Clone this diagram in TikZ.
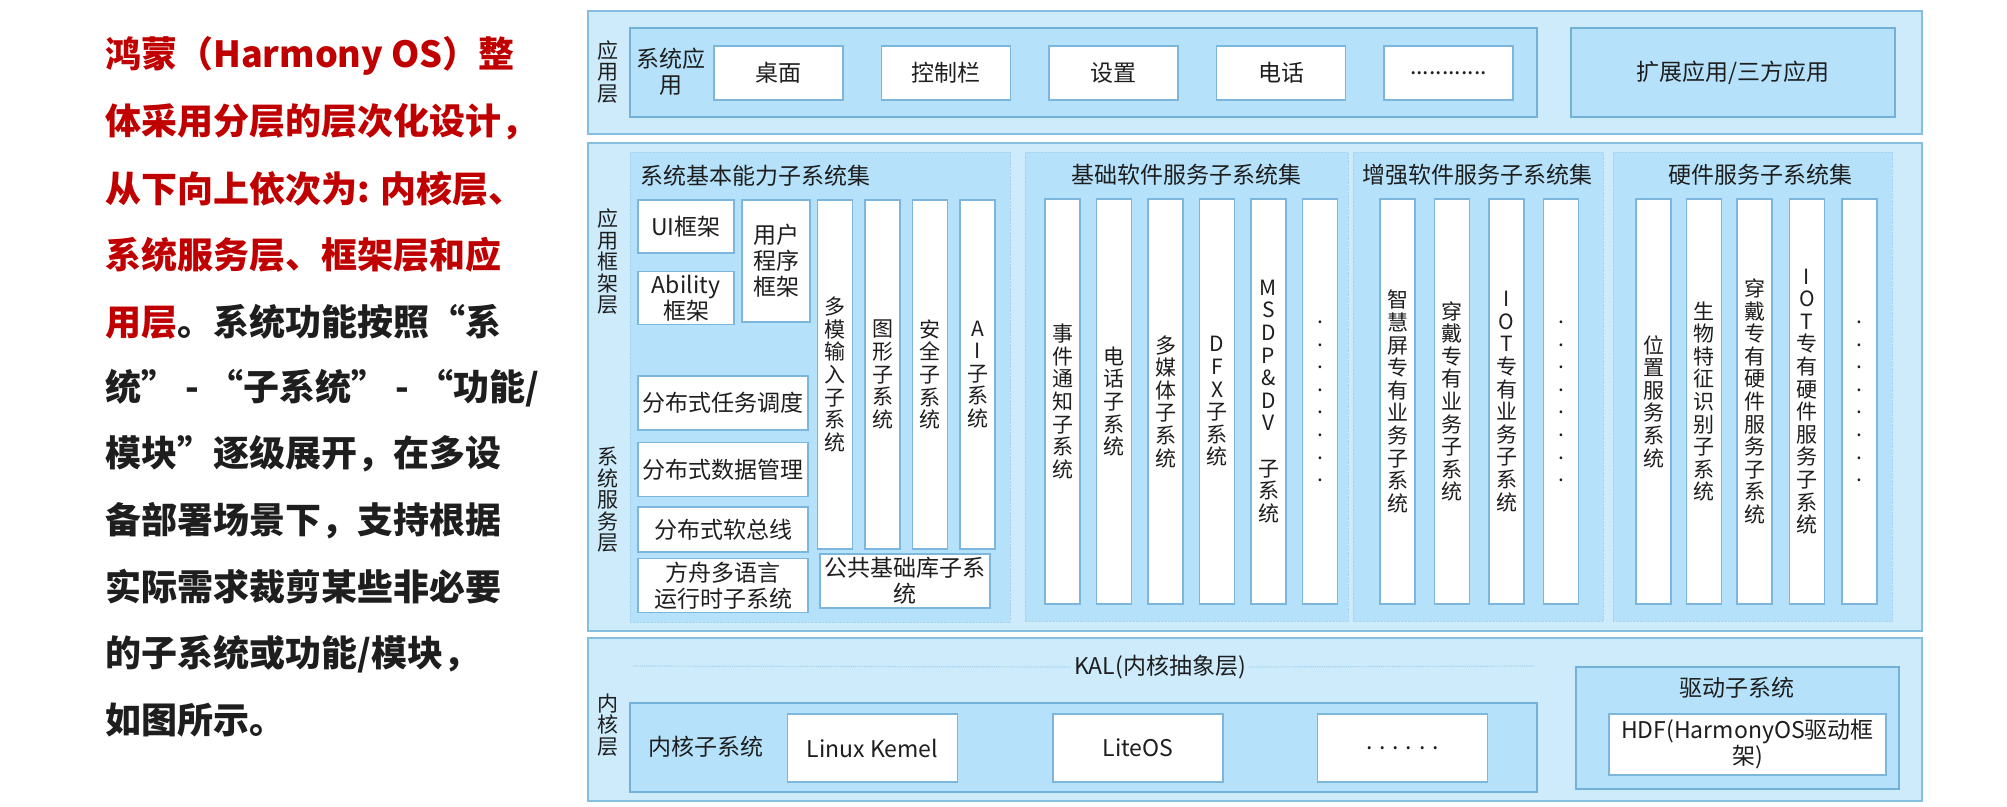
\documentclass[tikz,border=0pt]{standalone}
\usepackage{fontspec}
\setmainfont{Noto Sans CJK SC}
\usetikzlibrary{positioning}
\definecolor{layerfill}{HTML}{CDEBFB}
\definecolor{layerline}{HTML}{86BEE0}
\definecolor{groupfill}{HTML}{B5E2FA}
\definecolor{groupline}{HTML}{74B1D9}
\definecolor{setline}{HTML}{A6D4EE}
\definecolor{itemline}{HTML}{7DB6DC}
\definecolor{introred}{HTML}{C00000}
\definecolor{inktext}{HTML}{1E1E1E}

\begin{document}
\begin{tikzpicture}[x=1pt,y=-1pt,node distance=37pt,text=inktext,
  layerbox/.style={draw=layerline,fill=layerfill,line width=1.5pt,minimum width=1334pt,inner sep=0pt},
  groupbox/.style={draw=groupline,fill=groupfill,line width=1.5pt,inner sep=0pt,font=\fontsize{23}{26}\selectfont},
  setbox/.style={draw=setline,densely dotted,fill=groupfill,minimum height=469pt,inner sep=0pt},
  settitle/.style={font=\fontsize{23}{26}\selectfont},
  itembox/.style={draw=itemline,fill=white,line width=1.5pt,inner sep=1pt,align=center,font=\fontsize{23}{26}\selectfont},
  appbox/.style={itembox,minimum width=129pt,minimum height=54pt},
  colbox/.style={itembox,minimum width=35pt,minimum height=405pt,font=\fontsize{21}{22.6}\selectfont},
  basiccol/.style={colbox,minimum height=349pt},
  svcbox/.style={itembox,minimum width=170pt,minimum height=54pt},
  kernbox/.style={itembox,minimum width=170pt,minimum height=68pt},
  sidetag/.style={align=center,inner sep=0pt,font=\fontsize{21}{21.5}\selectfont},
  plaintag/.style={align=center,inner sep=0pt,font=\fontsize{23}{26}\selectfont},
  introline/.style={anchor=west,inner sep=0pt,font=\fontsize{36}{40}\selectfont\bfseries}]
  \useasboundingbox (0,0) rectangle (2007,806);

  \node[introline,text=introred] (line1) at (105,56) {鸿蒙（Harmony OS）整};
  \node[introline,text=introred] (line2) at (105,122) {体采用分层的层次化设计，};
  \node[introline,text=introred] (line3) at (105,189) {从下向上依次为: 内核层、};
  \node[introline,text=introred] (line4) at (105,255) {系统服务层、框架层和应};
  \node[introline] (line5) at (105,322) {\textcolor{introred}{用层}。系统功能按照“系};
  \node[introline] (line6) at (105,388) {统” - “子系统” - “功能/};
  \node[introline] (line7) at (105,454) {模块”逐级展开，在多设};
  \node[introline] (line8) at (105,521) {备部署场景下，支持根据};
  \node[introline] (line9) at (105,587) {实际需求裁剪某些非必要};
  \node[introline] (line10) at (105,654) {的子系统或功能/模块，};
  \node[introline] (line11) at (105,720) {如图所示。};

  \node[layerbox,minimum height=123pt] (applayer) at (1255,72.5) {};
  \node[sidetag] (applbl) at (608,72) {应\\用\\层};
  \node[groupbox,minimum width=907pt,minimum height=89pt] (sysapp) at (1083.5,72.5) {};
  \node[plaintag] (sysapplbl) at (671,72) {系统应\\用};
  \node[appbox] (desk) at (778.5,73) {桌面};
  \node[appbox,right=of desk] (ctrlbar) {控制栏};
  \node[appbox,right=of ctrlbar] (settings) {设置};
  \node[appbox,right=of settings] (phone) {电话};
  \node[appbox,right=of phone] (moreapp) {............};
  \node[groupbox,minimum width=324pt,minimum height=89pt] (extapp) at (1733,72.5) {扩展应用/三方应用};

  \node[layerbox,minimum height=488pt] (fwlayer) at (1255,387) {};
  \node[sidetag] (fwlbl) at (608,262) {应\\用\\框\\架\\层};
  \node[sidetag] (svclbl) at (608,500) {系\\统\\服\\务\\层};

  \node[setbox,minimum width=380pt,minimum height=470pt] (basicset) at (820,387) {};
  \node[settitle,anchor=west,inner sep=0pt] (basictitle) at (640,176) {系统基本能力子系统集};
  \node[itembox,minimum width=96pt,minimum height=53pt] (uifw) at (686,226.5) {UI框架};
  \node[itembox,minimum width=96pt,minimum height=53pt,below=17pt of uifw] (abilityfw) {Ability\\框架};
  \node[itembox,minimum width=68pt,minimum height=122pt] (userfw) at (776,261) {用户\\程序\\框架};
  \node[basiccol] (multiinput) at (835,374.5) {多\\模\\输\\入\\子\\系\\统};
  \node[basiccol,right=11pt of multiinput] (graphics) {图\\形\\子\\系\\统};
  \node[basiccol,right=11pt of graphics] (security) {安\\全\\子\\系\\统};
  \node[basiccol,right=11pt of security] (aisub) {A\\I\\子\\系\\统};
  \node[svcbox] (disttask) at (723,403) {分布式任务调度};
  \node[svcbox,below=11pt of disttask] (distdata) {分布式数据管理};
  \node[svcbox,minimum height=45pt,below=9pt of distdata] (distbus) {分布式软总线};
  \node[svcbox,below=5pt of distbus] (arkrt) {方舟多语言\\运行时子系统};
  \node[svcbox] (commonlib) at (905,581) {公共基础库子系\\统};

  \node[setbox,minimum width=323pt] (basesoft) at (1186.5,386.5) {};
  \node[settitle] (basesofttitle) at (1186,175) {基础软件服务子系统集};
  \node[colbox] (eventnotify) at (1062.5,401.5) {事\\件\\通\\知\\子\\系\\统};
  \node[colbox,right=15pt of eventnotify] (telephony) {电\\话\\子\\系\\统};
  \node[colbox,right=15pt of telephony] (multimedia) {多\\媒\\体\\子\\系\\统};
  \node[colbox,right=15pt of multimedia] (dfx) {D\\F\\X\\子\\系\\统};
  \node[colbox,right=15pt of dfx] (msdp) {M\\S\\D\\P\\\&\\D\\V\\ \\子\\系\\统};
  \node[colbox,right=15pt of msdp] (morebase) {.\\.\\.\\.\\.\\.\\.\\.};

  \node[setbox,minimum width=250pt] (enhanced) at (1478,386.5) {};
  \node[settitle] (enhancedtitle) at (1477,175) {增强软件服务子系统集};
  \node[colbox] (smartscreen) at (1397.5,401.5) {智\\慧\\屏\\专\\有\\业\\务\\子\\系\\统};
  \node[colbox,right=18pt of smartscreen] (wearbiz) {穿\\戴\\专\\有\\业\\务\\子\\系\\统};
  \node[colbox,right=18pt of wearbiz] (iotbiz) {I\\O\\T\\专\\有\\业\\务\\子\\系\\统};
  \node[colbox,right=18pt of iotbiz] (moreenh) {.\\.\\.\\.\\.\\.\\.\\.};

  \node[setbox,minimum width=279pt] (hardware) at (1752.5,386.5) {};
  \node[settitle] (hardwaretitle) at (1760,175) {硬件服务子系统集};
  \node[colbox] (location) at (1653.5,401.5) {位\\置\\服\\务\\系\\统};
  \node[colbox,right=14pt of location] (biometric) {生\\物\\特\\征\\识\\别\\子\\系\\统};
  \node[colbox,right=14pt of biometric] (wearhw) {穿\\戴\\专\\有\\硬\\件\\服\\务\\子\\系\\统};
  \node[colbox,right=16pt of wearhw] (iothw) {I\\O\\T\\专\\有\\硬\\件\\服\\务\\子\\系\\统};
  \node[colbox,right=16pt of iothw] (morehw) {.\\.\\.\\.\\.\\.\\.\\.};

  \node[layerbox,minimum height=163pt] (kernlayer) at (1255,719.5) {};
  \node[sidetag] (kernlbl) at (608,725) {内\\核\\层};
  \coordinate (kalstart) at (633,666);
  \coordinate (kalend) at (1534,666);
  \node[plaintag,inner sep=3pt] (kal) at (1160,667) {KAL(内核抽象层)};
  \draw[setline,densely dotted,line width=1.2pt] (kalstart) -- (kal.west);
  \draw[setline,densely dotted,line width=1.2pt] (kal.east) -- (kalend);
  \node[groupbox,minimum width=907pt,minimum height=89pt] (kernsub) at (1083.5,747.5) {};
  \node[plaintag] (kernsublbl) at (705.5,747) {内核子系统};
  \node[kernbox] (linuxk) at (872.5,748) {Linux Kemel};
  \node[kernbox,right=94pt of linuxk] (liteos) {LiteOS};
  \node[kernbox,right=93pt of liteos] (morekern) {. . . . . .};
  \node[groupbox,minimum width=323pt,minimum height=122pt] (driver) at (1737.5,728) {};
  \node[plaintag] (driverlbl) at (1737,688) {驱动子系统};
  \node[itembox,minimum width=277pt,minimum height=61pt] (hdf) at (1747.5,744.5) {HDF(HarmonyOS驱动框\\架)};
\end{tikzpicture}
\end{document}
